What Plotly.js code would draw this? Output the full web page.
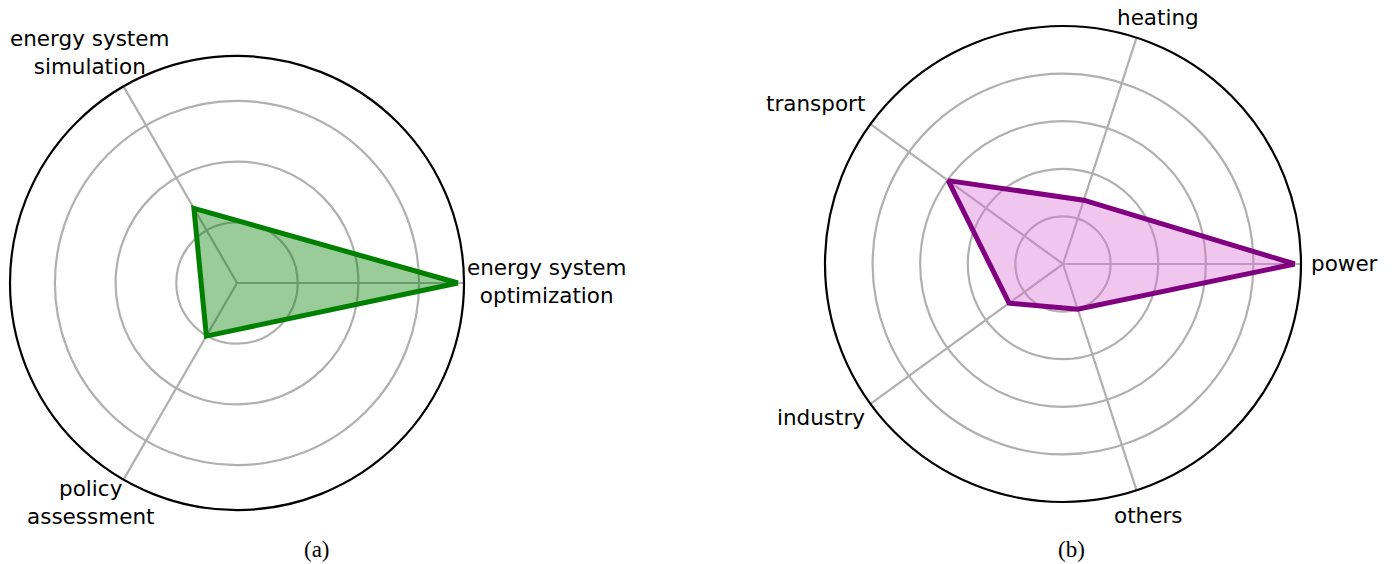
<!DOCTYPE html>
<html>
<head>
<meta charset="utf-8">
<script src="https://cdn.plot.ly/plotly-3.0.1.min.js"></script>
<style>html,body{margin:0;padding:0;background:#fff;}#chart{width:1397px;height:564px;}</style>
</head>
<body>
<div id="chart"></div>
<script>
// ---- data ----
const methodCategories = ["energy system<br>optimization", "energy system<br>simulation", "policy<br>assessment"];
const methodValues = [3.64, 1.42, 1.01];
const sectorCategories = ["power", "heating", "transport", "industry", "others"];
const sectorValues = [4.87, 1.41, 2.98, 1.40, 1.00];
const methodGrid = [1, 2, 3];
const sectorGrid = [1, 2, 3, 4];
const captions = ["(a)", "(b)"];

// ---- layout helpers ----
const W = 1397, H = 564;
function dom(cx, cy, r) {
  return { x: [(cx - r) / W, (cx + r) / W], y: [1 - (cy + r) / H, 1 - (cy - r) / H] };
}
function close(a) { return a.concat([a[0]]); }
function lab(text, px, py, xanchor) {
  return { text: text, x: px / W, y: 1 - py / H, xref: 'paper', yref: 'paper',
    xanchor: xanchor || 'center', yanchor: 'middle', showarrow: false, align: 'center',
    font: { family: 'DejaVu Sans, sans-serif', size: 21.5, color: '#000' } };
}
function cap(text, px, py) {
  return { text: text, x: px / W, y: 1 - py / H, xref: 'paper', yref: 'paper',
    xanchor: 'center', yanchor: 'middle', showarrow: false,
    font: { family: 'Liberation Serif, Times New Roman, serif', size: 23, color: '#000' } };
}

const traces = [
  { type: 'scatterpolar', subplot: 'polar', r: close(methodValues), theta: close(methodCategories),
    mode: 'lines', fill: 'toself', fillcolor: 'rgba(0,128,0,0.4)',
    line: { color: '#008000', width: 5 }, hoverinfo: 'skip' },
  { type: 'scatterpolar', subplot: 'polar2', r: close(sectorValues), theta: close(sectorCategories),
    mode: 'lines', fill: 'toself', fillcolor: 'rgba(218,112,214,0.4)',
    line: { color: '#800080', width: 5 }, hoverinfo: 'skip' }
];

function polarAxes(domain, rmax, grid, cats) {
  return {
    domain: domain, bgcolor: '#fff',
    radialaxis: { range: [0, rmax], tickvals: grid, showticklabels: false, ticks: '',
      showline: false, gridcolor: '#b0b0b0', gridwidth: 2.2 },
    angularaxis: { type: 'category', categoryarray: cats, rotation: 0, direction: 'counterclockwise',
      showticklabels: false, ticks: '', gridcolor: '#b0b0b0', gridwidth: 2.2,
      showline: true, linecolor: '#000', linewidth: 2.2 }
  };
}

const layout = {
  width: W, height: H, margin: { l: 0, r: 0, t: 0, b: 0 },
  paper_bgcolor: '#fff', showlegend: false,
  polar: polarAxes(dom(237, 283, 227), 3.74, methodGrid, methodCategories),
  polar2: polarAxes(dom(1063, 264, 238), 5, sectorGrid, sectorCategories),
  annotations: [
    lab(methodCategories[0], 465, 281, 'left'),
    lab(methodCategories[1], 89, 52),
    lab(methodCategories[2], 91, 502),
    lab(sectorCategories[0], 1309, 263, 'left'),
    lab(sectorCategories[1], 1158, 17),
    lab(sectorCategories[2], 816, 103),
    lab(sectorCategories[3], 821.5, 417),
    lab(sectorCategories[4], 1148, 515),
    cap(captions[0], 317, 549),
    cap(captions[1], 1071, 549)
  ]
};

Plotly.newPlot('chart', traces, layout, { staticPlot: true, displayModeBar: false });
</script>
</body>
</html>
